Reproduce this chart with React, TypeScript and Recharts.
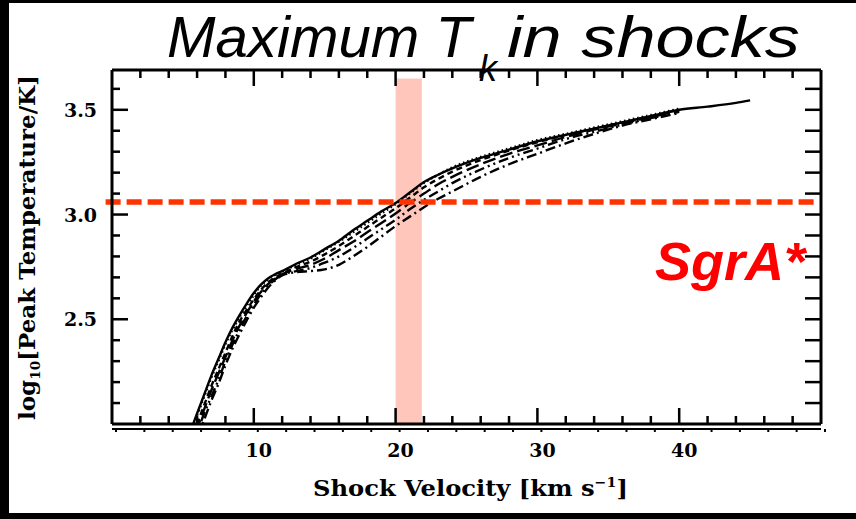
import React from "react";
import {
  ComposedChart,
  Line,
  XAxis,
  YAxis,
  ReferenceArea,
  ReferenceLine,
} from "recharts";

// shock velocity grid (km/s)
const VELOCITY = [
  5, 5.5, 6, 6.5, 7, 7.5, 8, 8.5, 9, 9.5, 10, 10.5, 11, 11.5, 12, 13, 14, 15,
  16, 17, 18, 19, 20, 21, 22, 23, 24, 26, 28, 30, 32, 34, 36, 38, 40, 42, 44, 45,
];

// log10 peak temperature, one array per model curve
const SOLID = [
  1.87, 1.96, 2.05, 2.14, 2.23, 2.31, 2.39, 2.46, 2.52, 2.575, 2.625, 2.665,
  2.695, 2.715, 2.73, 2.765, 2.795, 2.835, 2.875, 2.925, 2.97, 3.015, 3.055,
  3.105, 3.155, 3.19, 3.22, 3.27, 3.31, 3.35, 3.38, 3.41, 3.44, 3.47, 3.5,
  3.515, 3.533, 3.545,
];
const DOTTED = [
  1.86, 1.95, 2.04, 2.13, 2.22, 2.3, 2.38, 2.45, 2.51, 2.565, 2.615, 2.66, 2.69,
  2.712, 2.728, 2.76, 2.79, 2.83, 2.87, 2.915, 2.96, 3.005, 3.05, 3.1, 3.15,
  3.19, 3.225, 3.275, 3.315, 3.355, 3.385, 3.415, 3.445, 3.475, 3.505, null,
  null, null,
];
const SHORT_DASH = [
  1.82, 1.91, 2.0, 2.09, 2.18, 2.26, 2.34, 2.42, 2.49, 2.545, 2.595, 2.64,
  2.675, 2.7, 2.718, 2.75, 2.775, 2.81, 2.85, 2.895, 2.94, 2.985, 3.03, 3.08,
  3.13, 3.17, 3.205, 3.26, 3.305, 3.345, 3.38, 3.41, 3.44, 3.47, 3.5, null,
  null, null,
];
const LONG_DASH = [
  1.8, 1.89, 1.98, 2.07, 2.16, 2.24, 2.32, 2.4, 2.47, 2.53, 2.585, 2.63, 2.668,
  2.695, 2.715, 2.74, 2.76, 2.79, 2.83, 2.87, 2.915, 2.96, 3.005, 3.055, 3.1,
  3.145, 3.18, 3.24, 3.29, 3.33, 3.37, 3.405, 3.435, 3.465, 3.495, null, null,
  null,
];
const DASH_DOT_DOT = [
  1.78, 1.87, 1.96, 2.05, 2.13, 2.21, 2.3, 2.38, 2.45, 2.515, 2.57, 2.62, 2.66,
  2.69, 2.712, 2.73, 2.745, 2.77, 2.8, 2.84, 2.885, 2.93, 2.975, 3.025, 3.07,
  3.11, 3.15, 3.215, 3.27, 3.315, 3.36, 3.395, 3.43, 3.46, 3.49, null, null,
  null,
];
const DASH_DOT = [
  1.76, 1.85, 1.93, 2.02, 2.11, 2.19, 2.28, 2.36, 2.43, 2.495, 2.555, 2.605,
  2.65, 2.685, 2.71, 2.725, 2.73, 2.738, 2.76, 2.8, 2.845, 2.895, 2.945, 2.99,
  3.035, 3.075, 3.11, 3.18, 3.24, 3.29, 3.34, 3.385, 3.425, 3.455, 3.485, null,
  null, null,
];

const X_TICKS = [
  0, 2, 4, 6, 8, 10, 12, 14, 16, 18, 20, 22, 24, 26, 28, 30, 32, 34, 36, 38,
  40, 42, 44, 46, 48, 50,
];
const X_LABELS = [10, 20, 30, 40];
const Y_TICKS = [
  2.0, 2.1, 2.2, 2.3, 2.4, 2.5, 2.6, 2.7, 2.8, 2.9, 3.0, 3.1, 3.2, 3.3, 3.4,
  3.5, 3.6,
];
const Y_LABELS = [2.5, 3.0, 3.5];

const SGRA_LEVEL = 3.06;
const SGRA_BAND = [20, 21.85];
const BAND_TOP = 3.65;

const X_DOMAIN = [0, 50];
const Y_DOMAIN = [2.0, 3.69];

const data = VELOCITY.map((v, i) => ({
  v,
  solid: SOLID[i],
  dotted: DOTTED[i],
  shortDash: SHORT_DASH[i],
  longDash: LONG_DASH[i],
  dashDotDot: DASH_DOT_DOT[i],
  dashDot: DASH_DOT[i],
}));

const SERIES = [
  { key: "solid", dash: undefined },
  { key: "dotted", dash: "1.5 3" },
  { key: "shortDash", dash: "6 4" },
  { key: "longDash", dash: "13 5" },
  { key: "dashDotDot", dash: "10 4 2 4 2 4" },
  { key: "dashDot", dash: "10 4 2 4" },
];

// chart geometry
const W = 856;
const H = 519;
const MARGIN = { top: 60, right: 25, bottom: 80, left: 0 };
const LEFT_W = 112;
const RIGHT_W = 10;
const TOP_H = 10;
const BOTTOM_H = 5;
const DUP_H = 10;
const PLOT_X = MARGIN.left + LEFT_W;
const PLOT_Y = MARGIN.top + TOP_H;
const PLOT_W = W - MARGIN.left - MARGIN.right - LEFT_W - RIGHT_W;
const PLOT_H = H - MARGIN.top - MARGIN.bottom - TOP_H - BOTTOM_H - DUP_H;
const xUnits = (px: number) => (px * (X_DOMAIN[1] - X_DOMAIN[0])) / PLOT_W;
// same linear map as the chart's x axis, used for the frame ticks on the overlay
const xPx = (v: number) => PLOT_X + ((v - X_DOMAIN[0]) / (X_DOMAIN[1] - X_DOMAIN[0])) * PLOT_W;

const TICK_FONT = "'DejaVu Serif', serif";
const isMajorX = (v: number) => v % 10 === 0;
const isMajorY = (v: number) => Y_LABELS.some((l) => Math.abs(l - v) < 1e-6);

const axisLine = { stroke: "#000", strokeWidth: 3 };

function BottomLabel(props: any) {
  const { x, y, payload } = props;
  const v = payload.value;
  if (!X_LABELS.includes(v)) return <g />;
  return (
    <text
      x={x + 5}
      y={y + 33}
      textAnchor="middle"
      fontFamily={TICK_FONT}
      fontWeight="bold"
      fontSize={19}
      fill="#000"
    >
      {v}
    </text>
  );
}

function LeftLabel(props: any) {
  const { x, y, payload } = props;
  const v = payload.value;
  if (!isMajorY(v)) return <g />;
  return (
    <text
      x={x - 15}
      y={y + 7}
      textAnchor="end"
      fontFamily={TICK_FONT}
      fontWeight="bold"
      fontSize={19}
      fill="#000"
    >
      {v.toFixed(1)}
    </text>
  );
}

function DupTick(props: any) {
  const { x, y } = props;
  return <line x1={x + 4} y1={y} x2={x + 4} y2={y + 3} stroke="#000" strokeWidth={2} />;
}

const tickStyle = { stroke: "#000", strokeWidth: 2.5, ifOverflow: "visible" as const };

export default function App() {
  const xInner = X_TICKS.filter((v) => v > X_DOMAIN[0] && v < X_DOMAIN[1]);
  const yInner = Y_TICKS.filter((v) => v > Y_DOMAIN[0]);
  const bottomY = PLOT_Y + PLOT_H;

  return (
    <div
      style={{
        position: "absolute",
        left: 0,
        top: 0,
        width: W,
        height: H,
        background: "#fff",
        overflow: "hidden",
      }}
    >
      <ComposedChart width={W} height={H} data={data} margin={MARGIN}>
        <XAxis
          dataKey="v"
          type="number"
          domain={X_DOMAIN}
          ticks={X_TICKS}
          interval={0}
          allowDataOverflow
          height={BOTTOM_H}
          tickSize={0}
          tickMargin={0}
          tickLine={false}
          axisLine={axisLine}
          tick={(p: any) => <BottomLabel {...p} />}
        />
        <XAxis
          xAxisId="dup"
          dataKey="v"
          type="number"
          domain={X_DOMAIN}
          ticks={X_TICKS}
          interval={0}
          height={DUP_H}
          tickSize={0}
          tickMargin={0}
          tickLine={false}
          axisLine={{ stroke: "#000", strokeWidth: 2 }}
          tick={(p: any) => <DupTick {...p} />}
        />
        <XAxis
          xAxisId="top"
          orientation="top"
          dataKey="v"
          type="number"
          domain={X_DOMAIN}
          ticks={X_TICKS}
          height={TOP_H}
          tick={false}
          tickLine={false}
          axisLine={axisLine}
        />
        <YAxis
          type="number"
          domain={Y_DOMAIN}
          ticks={Y_TICKS}
          interval={0}
          allowDataOverflow
          width={LEFT_W}
          tickSize={0}
          tickMargin={0}
          tickLine={false}
          axisLine={axisLine}
          tick={(p: any) => <LeftLabel {...p} />}
        />
        <YAxis
          yAxisId="right"
          orientation="right"
          type="number"
          domain={Y_DOMAIN}
          ticks={Y_TICKS}
          width={RIGHT_W}
          tick={false}
          tickLine={false}
          axisLine={axisLine}
        />

        {SERIES.map((s) => (
          <Line
            key={s.key}
            dataKey={s.key}
            type="monotone"
            stroke="#000"
            strokeWidth={2.4}
            strokeDasharray={s.dash}
            dot={false}
            activeDot={false}
            isAnimationActive={false}
          />
        ))}

        {/* inward ticks on the left and right edges */}
        {yInner.map((v) => [
          <ReferenceLine
            key={`l${v}`}
            segment={[
              { x: X_DOMAIN[0], y: v },
              { x: X_DOMAIN[0] + xUnits(isMajorY(v) ? 16 : 8), y: v },
            ]}
            {...tickStyle}
          />,
          <ReferenceLine
            key={`r${v}`}
            segment={[
              { x: X_DOMAIN[1], y: v },
              { x: X_DOMAIN[1] - xUnits(16), y: v },
            ]}
            {...tickStyle}
          />,
        ])}

        <ReferenceArea
          x1={SGRA_BAND[0]}
          x2={SGRA_BAND[1]}
          y1={Y_DOMAIN[0]}
          y2={BAND_TOP}
          fill="#ff4422"
          fillOpacity={0.3}
          stroke="none"
        />
        <ReferenceLine
          segment={[
            { x: -0.45, y: SGRA_LEVEL },
            { x: 49.75, y: SGRA_LEVEL },
          ]}
          ifOverflow="visible"
          stroke="#ff3300"
          strokeWidth={5.5}
          strokeDasharray="15 6"
        />
      </ComposedChart>

      <svg
        width={W}
        height={H}
        style={{ position: "absolute", left: 0, top: 0, pointerEvents: "none" }}
      >
        {/* black frame of the slide */}
        <rect x={0} y={0} width={W} height={3} fill="#000" />
        <rect x={0} y={0} width={9} height={H} fill="#000" />
        <rect x={0} y={513} width={W} height={6} fill="#000" />

        {/* inward ticks on the bottom and top edges of the plot frame */}
        {xInner.map((v) => {
          const x = xPx(v);
          const len = isMajorX(v) ? 16 : 8;
          return (
            <path
              key={`xt${v}`}
              d={`M${x},${PLOT_Y}V${PLOT_Y + len}M${x},${bottomY}V${bottomY - len}`}
              stroke="#000"
              strokeWidth={2.5}
              fill="none"
            />
          );
        })}

        <g fontFamily="'Liberation Sans', Arial, sans-serif" fontStyle="italic" fill="#000">
          <text x={167} y={57} fontSize={58} textLength={304} lengthAdjust="spacingAndGlyphs">
            Maximum T
          </text>
          <text x={479} y={81} fontSize={36}>
            k
          </text>
          <text x={507} y={57} fontSize={58} textLength={293} lengthAdjust="spacingAndGlyphs">
            in shocks
          </text>
        </g>

        <text
          x={655}
          y={280}
          fontFamily="'Liberation Sans', Arial, sans-serif"
          fontStyle="italic"
          fontWeight="bold"
          fontSize={53}
          fill="#ff0000"
          textLength={150}
          lengthAdjust="spacingAndGlyphs"
        >
          SgrA*
        </text>

        <text
          x={313}
          y={496}
          fontFamily={TICK_FONT}
          fontWeight="bold"
          fontSize={22}
          fill="#000"
          textLength={315}
          lengthAdjust="spacingAndGlyphs"
        >
          Shock Velocity [km s
          <tspan fontSize={13} dy={-9}>
            −1
          </tspan>
          <tspan dy={9}>]</tspan>
        </text>

        <text
          transform="translate(35,420) rotate(-90)"
          x={0}
          y={0}
          fontFamily={TICK_FONT}
          fontWeight="bold"
          fontSize={22}
          fill="#000"
          textLength={345}
          lengthAdjust="spacingAndGlyphs"
        >
          log
          <tspan fontSize={13} dy={5}>
            10
          </tspan>
          <tspan dy={-5}>[Peak Temperature/K]</tspan>
        </text>
      </svg>
    </div>
  );
}
